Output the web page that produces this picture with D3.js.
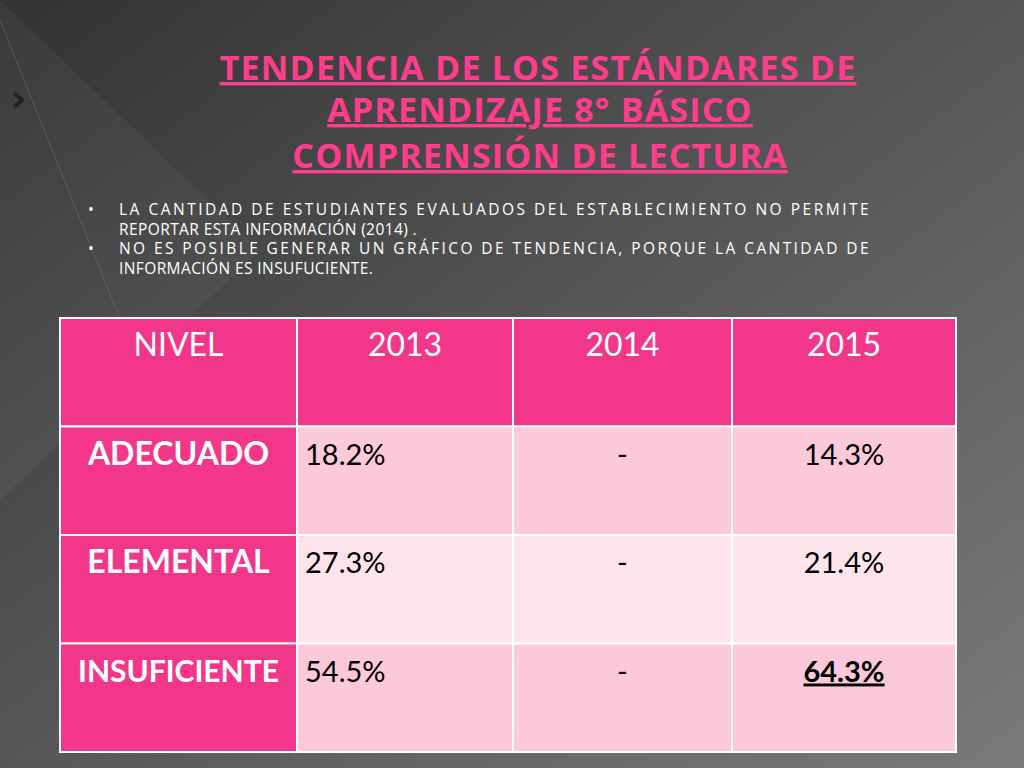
<!DOCTYPE html><html><head><meta charset="utf-8">
<script src="https://cdn.jsdelivr.net/npm/d3@7"></script>
<style>body{margin:0;background:#555}</style></head><body>
<svg id="s" width="1024" height="768"></svg>
<script>
const titleLines=["TENDENCIA DE LOS ESTÁNDARES DE","APRENDIZAJE 8° BÁSICO","COMPRENSIÓN DE LECTURA"];
const bullets=[["LA CANTIDAD DE ESTUDIANTES EVALUADOS DEL ESTABLECIMIENTO NO PERMITE","REPORTAR ESTA INFORMACIÓN (2014) ."],["NO ES POSIBLE GENERAR UN GRÁFICO DE TENDENCIA, PORQUE LA CANTIDAD DE","INFORMACIÓN ES INSUFUCIENTE."]];
const columns=["NIVEL","2013","2014","2015"];
const levels=["ADECUADO","ELEMENTAL","INSUFICIENTE"];
const v2013=["18.2%","27.3%","54.5%"];
const v2014=["-","-","-"];
const v2015=["14.3%","21.4%","64.3%"];

const svg=d3.select("#s");
const defs=svg.append("defs");
const g=defs.append("linearGradient").attr("id","bg").attr("x1",0).attr("y1",0).attr("x2",1).attr("y2",1);
g.append("stop").attr("offset",0).attr("stop-color","#333");
g.append("stop").attr("offset",1).attr("stop-color","#7a7a7a");
svg.append("rect").attr("width",1024).attr("height",768).attr("fill","url(#bg)");
svg.append("path").attr("d","M0,20 L300,768").attr("stroke","#777").attr("stroke-opacity",0.4).attr("fill","none");
svg.append("path").attr("d","M0,0 L260,250 L0,500Z").attr("fill","#fff").attr("opacity",0.04);
svg.append("text").attr("x",10).attr("y",112).text("›").attr("fill","#222").attr("font-size",40).attr("font-family","DejaVu Sans").attr("font-weight","bold");

const T=svg.append("g").attr("font-family","Open Sans, sans-serif").attr("font-weight","bold").attr("fill","#ff3d8c").attr("font-size",34).attr("letter-spacing",1.2).attr("text-anchor","middle");
[[538,80],[540,122],[540,168]].forEach((p,i)=>T.append("text").attr("x",p[0]).attr("y",p[1]).attr("text-decoration","underline").text(titleLines[i]));

const B=svg.append("g").attr("font-family","Open Sans, sans-serif").attr("font-size",15.5).attr("fill","#fff").attr("letter-spacing",0.4);
let y=215;
bullets.forEach(b=>{B.append("text").attr("x",88).attr("y",y).text("•");
 b.forEach(l=>{B.append("text").attr("x",119).attr("y",y).attr("textLength",l.length>40?750:null).text(l);y+=19.5;});});

const xs=d3.scaleOrdinal().domain(columns).range([60,297,513,732]);
const ws=d3.scaleOrdinal().domain(columns).range([237,216,219,224]);
const ys=d3.scaleBand().domain(["h",...levels]).range([318,752]);
const tbl=svg.append("g").attr("font-family","Lato, sans-serif");
const rowFill=["#fcc9db","#fde3ec","#fcc9db"];
const cell=(c,r,fill,txt,col,weight,anchor,ul,fs)=>{
 tbl.append("rect").attr("x",xs(c)).attr("y",ys(r)).attr("width",ws(c)).attr("height",ys.bandwidth()).attr("fill",fill).attr("stroke","#fff").attr("stroke-width",2);
 const t=tbl.append("text").attr("y",ys(r)+38).attr("font-size",fs||29).attr("fill",col).attr("font-weight",weight).text(txt);
 if(anchor==="middle")t.attr("x",xs(c)+ws(c)/2).attr("text-anchor","middle");else t.attr("x",xs(c)+8);
 if(ul)t.attr("text-decoration","underline");
};
columns.forEach(c=>cell(c,"h","#f2378b",c,"#fff","normal","middle",false,32));
levels.forEach((l,i)=>{
 cell("NIVEL",l,"#f2378b",l,"#fff","bold","middle",false,l.length>10?30:32);
 cell("2013",l,rowFill[i],v2013[i],"#000","normal","start");
 cell("2014",l,rowFill[i],v2014[i],"#000","normal","middle");
 cell("2015",l,rowFill[i],v2015[i],"#000",i===2?"bold":"normal","middle",i===2);
});
</script></body></html>
